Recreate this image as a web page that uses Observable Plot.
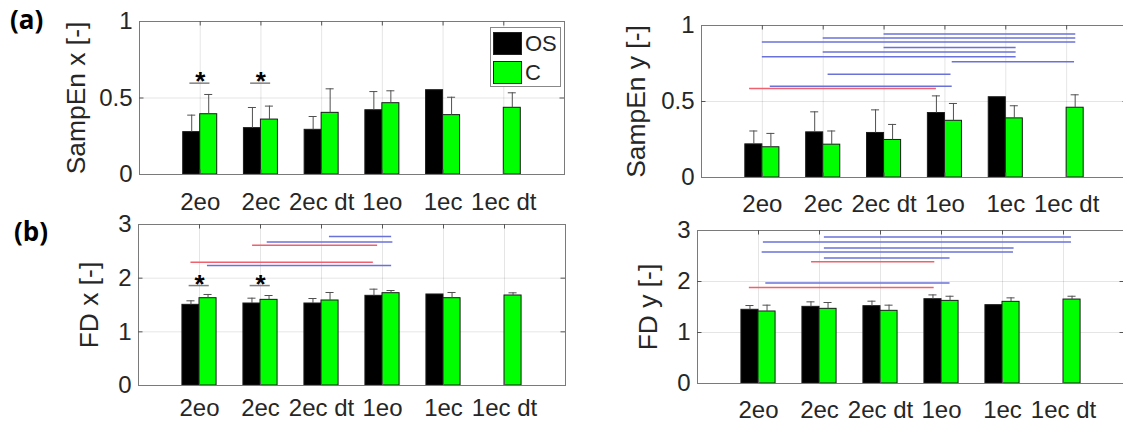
<!DOCTYPE html>
<html><head><meta charset="utf-8">
<script src="https://cdn.jsdelivr.net/npm/d3@7"></script>
<script src="https://cdn.jsdelivr.net/npm/@observablehq/plot@0.6"></script>
<style>
body{margin:0;background:#fff;}
#wrap{position:relative;width:1123px;height:422px;overflow:hidden;background:#fff;font-family:"Liberation Sans",Arial,sans-serif;}
.panel{position:absolute;}
.letter{position:absolute;font-family:"Open Sans",sans-serif;font-weight:700;font-size:26px;line-height:1;color:#000;}
.legend{position:absolute;background:#fff;border:1px solid #888;box-sizing:border-box;}
.legend .sw{position:absolute;box-sizing:border-box;border:1px solid #222;}
.legend .lb{position:absolute;font-size:22px;line-height:1;color:#262626;}
</style></head><body><div id="wrap"></div>
<script>
// ---------- data ----------
const categories = ["2eo", "2ec", "2ec dt", "1eo", "1ec", "1ec dt"];
const series = ["OS", "C"];

const sampEnX_OS    = [0.277, 0.303, 0.292, 0.420, 0.551, null];
const sampEnX_OS_sd = [0.111, 0.135, 0.087, 0.122, null, null];
const sampEnX_C     = [0.394, 0.359, 0.403, 0.466, 0.388, 0.436];
const sampEnX_C_sd  = [0.129, 0.088, 0.157, 0.081, 0.117, 0.098];

const sampEnY_OS    = [0.218, 0.297, 0.293, 0.424, 0.528, null];
const sampEnY_OS_sd = [0.088, 0.135, 0.152, 0.113, null, null];
const sampEnY_C     = [0.199, 0.216, 0.247, 0.373, 0.389, 0.459];
const sampEnY_C_sd  = [0.091, 0.090, 0.102, 0.114, 0.083, 0.085];

const fdX_OS    = [1.503, 1.528, 1.528, 1.671, 1.696, null];
const fdX_OS_sd = [0.075, 0.099, 0.093, 0.124, null, null];
const fdX_C     = [1.627, 1.596, 1.584, 1.720, 1.627, 1.677];
const fdX_C_sd  = [0.069, 0.081, 0.149, 0.050, 0.106, 0.050];

const fdY_OS    = [1.445, 1.503, 1.516, 1.653, 1.536, null];
const fdY_OS_sd = [0.084, 0.098, 0.098, 0.084, null, null];
const fdY_C     = [1.412, 1.464, 1.425, 1.620, 1.601, 1.646];
const fdY_C_sd  = [0.124, 0.124, 0.111, 0.091, 0.078, 0.065];

// significance lines (x in category-axis units)
const sigSampEnY_from  = [3.00, 2.00, 1.00, 3.00, 2.00, 1.00, 4.12, 2.08, 1.13, 0.79];
const sigSampEnY_to    = [6.15, 6.15, 6.15, 5.17, 5.17, 5.17, 6.13, 4.10, 4.12, 3.86];
const sigSampEnY_level = [0.944, 0.917, 0.891, 0.856, 0.826, 0.795, 0.762, 0.679, 0.600, 0.585];
const sigSampEnY_group = ["C", "C", "C", "C", "C", "C", "C", "C", "C", "OS"];

const sigFdX_from  = [3.13, 2.11, 1.87, 0.86, 1.13];
const sigFdX_to    = [4.15, 4.17, 3.92, 3.85, 4.15];
const sigFdX_level = [2.775, 2.674, 2.613, 2.296, 2.235];
const sigFdX_group = ["C", "C", "OS", "OS", "C"];

const sigFdY_from  = [2.08, 1.08, 2.08, 1.06, 2.08, 1.87, 1.12, 0.85];
const sigFdY_to    = [6.13, 6.13, 5.19, 5.18, 4.14, 3.89, 4.14, 3.88];
const sigFdY_level = [2.871, 2.773, 2.656, 2.578, 2.461, 2.389, 1.973, 1.881];
const sigFdY_group = ["C", "C", "C", "C", "C", "OS", "C", "OS"];

// within-condition OS vs C significance (asterisks)
const starSampEnX_cats = ["2eo", "2ec"];
const starSampEnX_level = [0.597, 0.597];
const starFdX_cats = ["2eo", "2ec"];
const starFdX_level = [1.862, 1.862];

const ticksSampEn = [0, 0.5, 1];
const ticksFD = [0, 1, 2, 3];

// ---------- rendering ----------
const barColor = {OS: "#000000", C: "#00ff00"};
const sigColor = {OS: "#f0606e", C: "#6a72da"};
const BW = 0.28, CAP = 0.066;
const wrap = document.getElementById("wrap");

function makeSig(from, to, level, group) {
  return from.map((f, i) => ({from: f, to: to[i], level: level[i], group: group[i]}));
}
function makeStars(cats, level) {
  return cats.map((c, i) => ({c: categories.indexOf(c) + 1, level: level[i]}));
}

function panel(o) {
  const mL = 90, mT = 30, mB = 50, mR = 10;
  const xt = categories.map((_, i) => i + 1);
  const bars = [];
  categories.forEach((cat, i) => {
    const c = i + 1;
    if (o.os[i] != null) bars.push({series: "OS", x1: c - BW, x2: c, cx: c - BW / 2, v: o.os[i], sd: o.osSd[i]});
    if (o.c[i] != null) bars.push({series: "C", x1: c, x2: c + BW, cx: c + BW / 2, v: o.c[i], sd: o.cSd[i]});
  });
  const eb = bars.filter(b => b.sd != null);
  const yMax = o.yTicks[o.yTicks.length - 1];
  const inner = o.yTicks.slice(1, -1);
  const svg = Plot.plot({
    width: mL + o.w + mR, height: mT + o.h + mB,
    marginLeft: mL, marginRight: mR, marginTop: mT, marginBottom: mB,
    x: {domain: [0, 7]}, y: {domain: [0, yMax]},
    style: {background: "transparent", fontFamily: '"Liberation Sans", Arial, sans-serif', color: "#262626", overflow: "visible"},
    marks: [
      Plot.gridX({ticks: xt, stroke: "#000", strokeOpacity: 0.1}),
      Plot.gridY({ticks: inner, stroke: "#000", strokeOpacity: 0.1}),
      Plot.ruleY(o.sig || [], {x1: "from", x2: "to", y: "level", stroke: d => sigColor[d.group], strokeWidth: 1.5}),
      Plot.rect(bars, {x1: "x1", x2: "x2", y1: 0, y2: "v", fill: d => barColor[d.series], stroke: "#1a1a1a", strokeWidth: 1}),
      Plot.ruleX(eb, {x: "cx", y1: "v", y2: d => d.v + d.sd, stroke: "#505050", strokeWidth: 1}),
      Plot.ruleY(eb, {x1: d => d.cx - CAP, x2: d => d.cx + CAP, y: d => d.v + d.sd, stroke: "#505050", strokeWidth: 1}),
      Plot.ruleY(o.stars || [], {x1: d => d.c - 0.17, x2: d => d.c + 0.16, y: "level", stroke: "#808080", strokeWidth: 1.5}),
      Plot.text(o.stars || [], {x: "c", y: "level", text: () => "*", fontSize: 26, fontWeight: "bold", fill: "#000", dy: -1}),
      Plot.frame({stroke: "#7a7a7a", strokeWidth: 1}),
      Plot.ruleX(xt, {x: d => d, insetBottom: o.h - 4.5, stroke: "#555"}),
      Plot.ruleX(xt, {x: d => d, insetTop: o.h - 4.5, stroke: "#555"}),
      Plot.ruleY(inner, {y: d => d, insetRight: o.w - 4.5, stroke: "#555"}),
      Plot.ruleY(inner, {y: d => d, insetLeft: o.w - 4.5, stroke: "#555"}),
      Plot.axisX({ticks: xt, tickSize: 0, tickPadding: o.xPad, tickFormat: d => categories[d - 1], fontSize: 24, label: null}),
      Plot.axisY({ticks: o.yTicks, tickSize: 0, tickPadding: 7, tickFormat: d => String(d), fontSize: 24, label: null}),
      Plot.text([o.ylabel], {text: d => d, frameAnchor: "left", textAnchor: "middle", dx: o.ylDx, rotate: -90, fontSize: 26.4, fill: "#262626"})
    ]
  });
  svg.classList.add("panel");
  svg.style.left = (o.left - mL) + "px";
  svg.style.top = (o.top - mT) + "px";
  svg.style.maxWidth = "none";
  wrap.appendChild(svg);
}

panel({left: 139, top: 21, w: 425, h: 153, yTicks: ticksSampEn, ylabel: "SampEn x [-]", ylDx: -63, xPad: 18,
  os: sampEnX_OS, osSd: sampEnX_OS_sd, c: sampEnX_C, cSd: sampEnX_C_sd,
  stars: makeStars(starSampEnX_cats, starSampEnX_level)});
panel({left: 701, top: 25, w: 426, h: 152, yTicks: ticksSampEn, ylabel: "SampEn y [-]", ylDx: -65, xPad: 17.5,
  os: sampEnY_OS, osSd: sampEnY_OS_sd, c: sampEnY_C, cSd: sampEnY_C_sd,
  sig: makeSig(sigSampEnY_from, sigSampEnY_to, sigSampEnY_level, sigSampEnY_group)});
panel({left: 138, top: 224, w: 427, h: 161, yTicks: ticksFD, ylabel: "FD x [-]", ylDx: -48.5, xPad: 13.5,
  os: fdX_OS, osSd: fdX_OS_sd, c: fdX_C, cSd: fdX_C_sd,
  sig: makeSig(sigFdX_from, sigFdX_to, sigFdX_level, sigFdX_group),
  stars: makeStars(starFdX_cats, starFdX_level)});
panel({left: 697, top: 230, w: 427, h: 153, yTicks: ticksFD, ylabel: "FD y [-]", ylDx: -48.5, xPad: 17,
  os: fdY_OS, osSd: fdY_OS_sd, c: fdY_C, cSd: fdY_C_sd,
  sig: makeSig(sigFdY_from, sigFdY_to, sigFdY_level, sigFdY_group)});

// panel letters
[["(a)", 10, 6], ["(b)", 14, 218]].forEach(([t, x, y]) => {
  const d = document.createElement("div");
  d.className = "letter"; d.textContent = t;
  d.style.left = x + "px"; d.style.top = y + "px";
  wrap.appendChild(d);
});

// legend (top-left panel)
const lg = document.createElement("div");
lg.className = "legend";
Object.assign(lg.style, {left: "490px", top: "27px", width: "71px", height: "60px"});
series.forEach((s, i) => {
  const sw = document.createElement("div");
  sw.className = "sw";
  Object.assign(sw.style, {left: "2px", top: (4 + i * 29) + "px", width: "29px", height: "23px", background: barColor[s]});
  lg.appendChild(sw);
  const lb = document.createElement("div");
  lb.className = "lb"; lb.textContent = s;
  Object.assign(lb.style, {left: "34px", top: (5 + i * 29) + "px"});
  lg.appendChild(lb);
});
wrap.appendChild(lg);
</script>
</body></html>
